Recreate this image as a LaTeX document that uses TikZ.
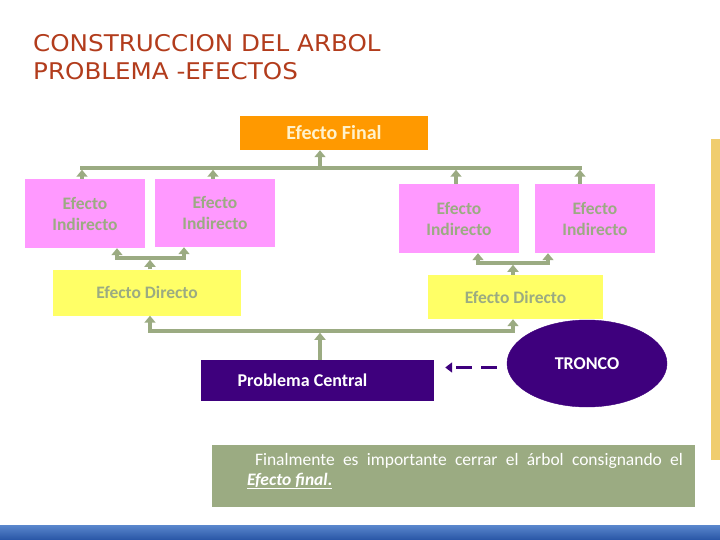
\documentclass[tikz,border=0pt]{standalone}
\usepackage{fontspec}
\setmainfont{Carlito}
\newfontfamily\titfont[FakeStretch=1.07]{DejaVu Sans}
\usetikzlibrary{arrows.meta,positioning,calc,shapes.geometric}
\definecolor{tit}{RGB}{178,60,28}
\definecolor{naranja}{RGB}{255,153,0}
\definecolor{crema}{RGB}{255,242,204}
\definecolor{rosa}{RGB}{255,153,255}
\definecolor{amar}{RGB}{255,255,102}
\definecolor{sage}{RGB}{155,171,130}
\definecolor{morado}{RGB}{62,0,125}
\definecolor{oro}{RGB}{240,205,110}
\definecolor{azul1}{RGB}{90,135,205}
\definecolor{azul2}{RGB}{40,85,165}
\begin{document}
\begin{tikzpicture}[x=1pt,y=-1pt,
  b/.style={align=center,inner sep=2pt,font=\fontsize{17.5}{21}\selectfont\bfseries,text=sage},
  ind/.style={b,fill=rosa,minimum width=120pt,minimum height=68pt},
  dir/.style={b,fill=amar,minimum height=46pt},
  osc/.style={b,fill=morado,text=white,font=\fontsize{18}{21}\selectfont\bfseries},
  lin/.style={line width=3.5pt,draw=sage,line cap=rect},
  ar/.style={-{Triangle[length=7pt,width=11pt]},line width=3.5pt,draw=sage},
  dar/.style={-{Triangle[length=7pt,width=10pt]},line width=3.5pt,draw=morado,dash pattern=on 16pt off 9pt}]
\useasboundingbox (0,0) rectangle (720,540);
\node[anchor=north west,inner sep=0pt,align=left,text=tit,
  font=\titfont\fontsize{23}{28}\selectfont] (titulo) at (33,34)
  {CONSTRUCCION DEL ARBOL\\PROBLEMA -EFECTOS};
\node[b,fill=naranja,text=crema,font=\fontsize{20}{24}\selectfont\bfseries,
  minimum width=188pt,minimum height=34pt] (fin) at (334,133) {Efecto Final};
\node[ind,minimum height=69pt] (i1) at (85,213.5) {Efecto\\Indirecto};
\node[ind] (i2) at (215,213) {Efecto\\Indirecto};
\node[ind,minimum height=69pt] (i3) at (459,218.5) {Efecto\\Indirecto};
\node[ind,minimum height=69pt] (i4) at (595,218.5) {Efecto\\Indirecto};
\node[dir,minimum width=188pt] (d1) at (147,292.5) {Efecto Directo};
\node[dir,minimum width=175pt,minimum height=44pt] (d2) at (515.5,297) {Efecto Directo};
\node[osc,minimum width=233pt,minimum height=41pt] (pc) at (317.5,380.5)
  {Problema Central\hspace*{30pt}};
\node[osc,ellipse,draw=morado,minimum width=160pt,minimum height=87pt] (tr) at (587,363.5)
  {\raisebox{-2pt}{TRONCO}};
\node[fill=sage,text=white,minimum width=483pt,minimum height=62pt,inner xsep=12pt,
  text width=459pt,align=justify,font=\fontsize{17.5}{20}\selectfont] (nota) at (453.5,476)
  {\leftskip=23pt\hspace*{8pt}Finalmente es importante cerrar el árbol consignando el
  \underline{\textbf{\textit{Efecto final.}}}\par\vspace*{10pt}};
\coordinate (ta) at (82,168);
\coordinate (tb) at (580,168);
\coordinate (ct) at (320,168);
\coordinate (cl) at (150,258);
\coordinate (cr) at (513,263);
\coordinate (cb) at (320,331);
\draw[lin] (ta) -- (tb);
\draw[ar] (ct) -- (ct |- fin.south);
\draw[ar,shorten >=1.75pt] (ta |- i1.north) -- (ta);
\draw[ar,shorten >=1.75pt] ([xshift=-2pt]i2.north) -- ([xshift=-2pt]i2.north |- ct);
\draw[ar,shorten >=1.75pt] ([xshift=-3pt]i3.north) -- ([xshift=-3pt]i3.north |- ct);
\draw[ar,shorten >=1.75pt] (tb |- i4.north) -- (tb);
\draw[ar,shorten >=1.75pt] (d1.north -| cl) -- (cl);
\draw[ar] (cl) -| ([xshift=32pt]i1.south);
\draw[ar] (cl) -| ([xshift=-31pt]i2.south);
\draw[ar,shorten >=1.75pt] (d2.north -| cr) -- (cr);
\draw[ar] (cr) -| ([xshift=19pt]i3.south);
\draw[ar] (cr) -| ([xshift=-47pt]i4.south);
\draw[ar,shorten >=1.75pt] (pc.north -| cb) -- (cb);
\draw[ar] (cb) -| ([xshift=3pt]d1.south);
\draw[ar] (cb) -| ([xshift=-2.5pt]d2.south);
\draw[dar,shorten <=10pt,shorten >=11pt] ([yshift=-4pt]tr.west) -- ([yshift=-4pt]tr.west -| pc.east);
\fill[oro] (711,139) rectangle (720,460);
\shade[top color=azul1,bottom color=azul2] (0,525) rectangle (720,540);
\end{tikzpicture}
\end{document}
